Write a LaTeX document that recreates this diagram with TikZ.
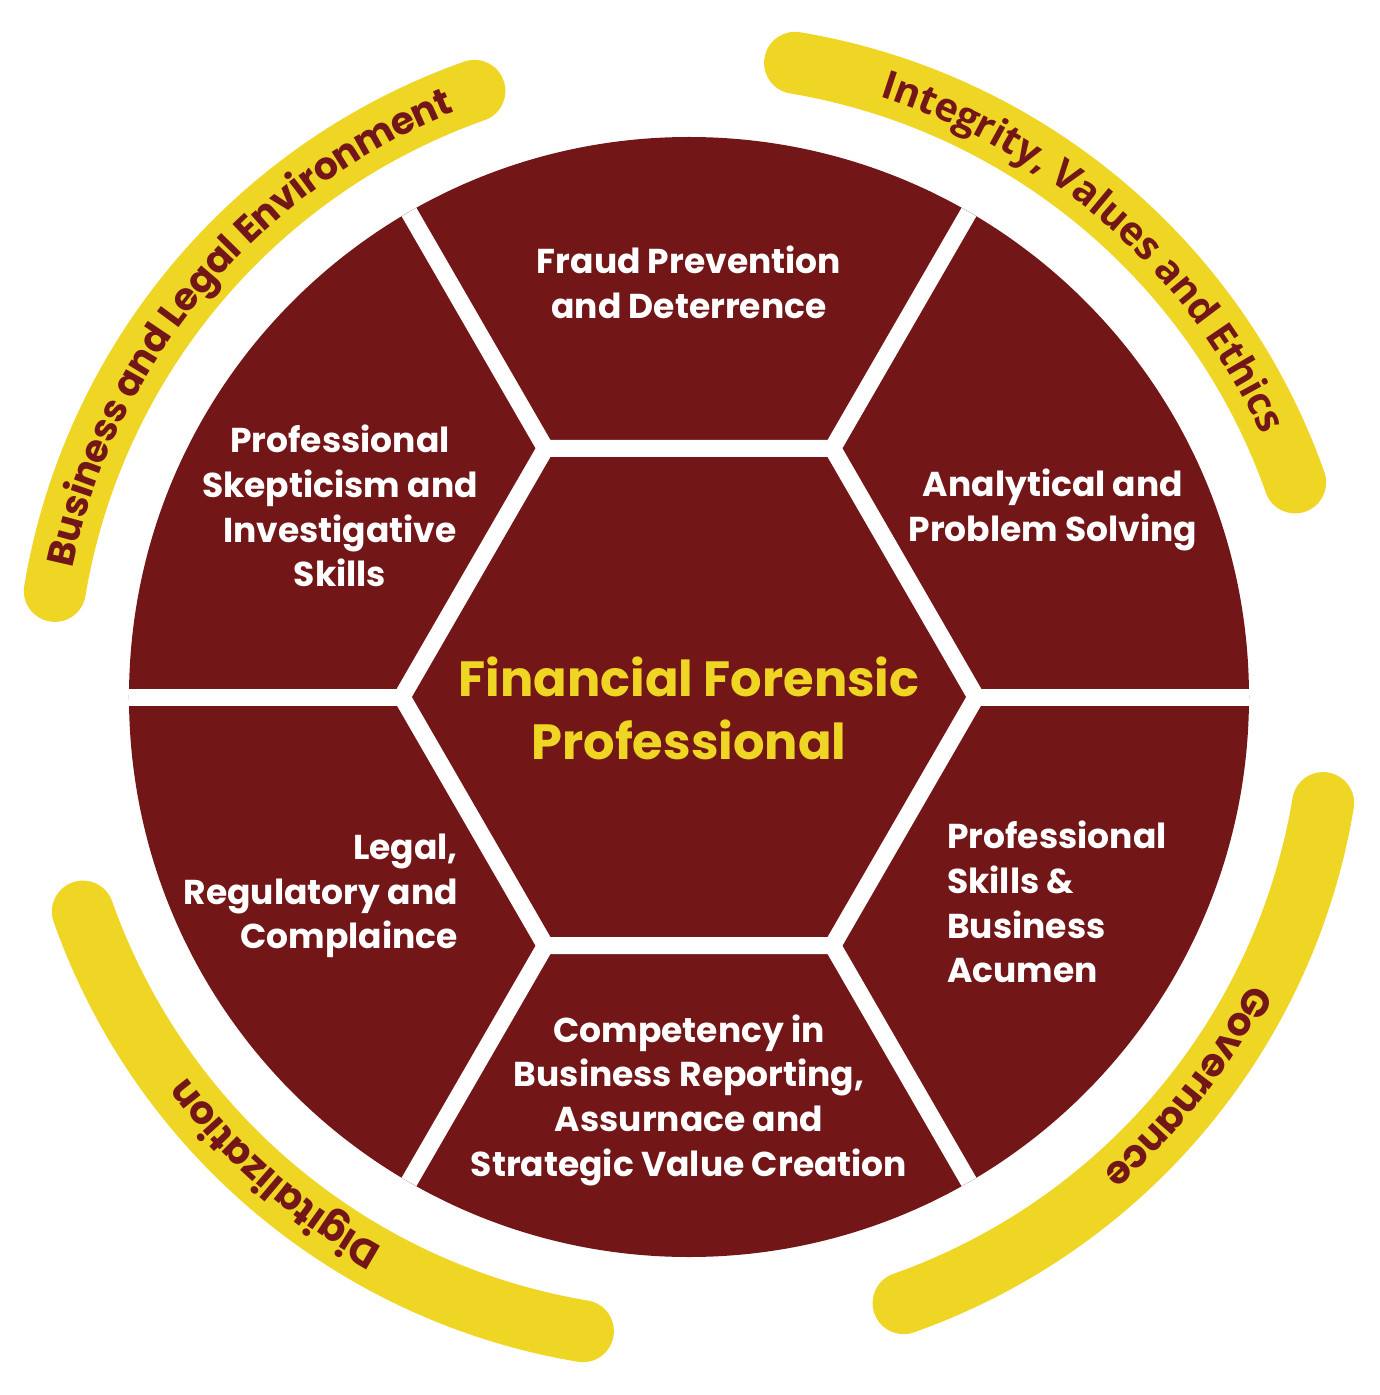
\documentclass[tikz,border=0pt]{standalone}
\usepackage{fontspec}
\setmainfont{Poppins}
\newfontfamily\opensans{Open Sans}
\usetikzlibrary{decorations.text}
\definecolor{maroon}{HTML}{731618}
\definecolor{gold}{HTML}{F0D624}
\tikzset{
  band/.style={draw=gold, line width=62pt, line cap=round},
  gap/.style={draw=white, line width=17pt},
  segtext/.style={text=white, font=\bfseries\fontsize{34.5}{44.7}\selectfont, align=center, inner sep=0pt},
  centertext/.style={text=gold, font=\bfseries\fontsize{49.5}{63}\selectfont, align=center, inner sep=0pt},
  arctext/.style={decorate, decoration={text along path, text align=center, raise=-13pt, text={#1}}}
}
\begin{document}
\begin{tikzpicture}[x=1pt,y=1pt]
\useasboundingbox[fill=white] (-689,-698) rectangle (690,697);
% yellow bands
\draw[band] (170.5:643pt) arc[start angle=170.5, end angle=109.5, radius=643pt];
\draw[band] (80.5:643pt) arc[start angle=80.5, end angle=19.5, radius=643pt];
\draw[band] (-9.5:643pt) arc[start angle=-9.5, end angle=-70.5, radius=643pt];
\draw[band] (260.5:643pt) arc[start angle=260.5, end angle=199.5, radius=643pt];
% band texts
\path[arctext={|\bfseries\fontsize{38}{38}\selectfont\color{maroon}|Business and Legal Environment}]
  (170.5:643pt) arc[start angle=170.5, end angle=109.5, radius=643pt];
\path[arctext={|\opensans\bfseries\fontsize{39.5}{39.5}\selectfont\color{maroon}|Integrity, Values and Ethics}]
  (79:643pt) arc[start angle=79, end angle=18, radius=643pt];
\path[arctext={|\bfseries\fontsize{39}{39}\selectfont\color{maroon}|Governance}]
  (-7.5:643pt) arc[start angle=-7.5, end angle=-68.5, radius=643pt];
\path[arctext={|\bfseries\fontsize{39}{39}\selectfont\color{maroon}|Digitalization}]
  (259.5:643pt) arc[start angle=259.5, end angle=198.5, radius=643pt];
% wheel
\fill[maroon] (0,0) circle[radius=560pt];
\foreach \a in {0,60,...,300} \draw[gap] (0,0) -- (\a:560pt);
\fill[white] (0:297pt) -- (60:297pt) -- (120:297pt) -- (180:297pt) -- (240:297pt) -- (300:297pt) -- cycle;
\fill[maroon] (0:277pt) -- (60:277pt) -- (120:277pt) -- (180:277pt) -- (240:277pt) -- (300:277pt) -- cycle;
% texts
\node[centertext] (ffp) at (0,-11) {Financial Forensic\\Professional};
\node[segtext] (fraud) at (0,415) {Fraud Prevention\\and Deterrence};
\node[segtext] (skept) at (-349,191) {Professional\\Skepticism and\\Investigative\\Skills};
\node[segtext] (anal) at (364,187) {Analytical and\\Problem Solving};
\node[segtext, anchor=east, align=right] (legal) at (-231,-199) {Legal,\\Regulatory and\\Complaince};
\node[segtext, anchor=west, align=left] (acumen) at (258,-205) {Professional\\Skills \&\\Business\\Acumen};
\node[segtext] (comp) at (0,-403) {Competency in\\Business Reporting,\\Assurnace and\\Strategic Value Creation};
\end{tikzpicture}
\end{document}
